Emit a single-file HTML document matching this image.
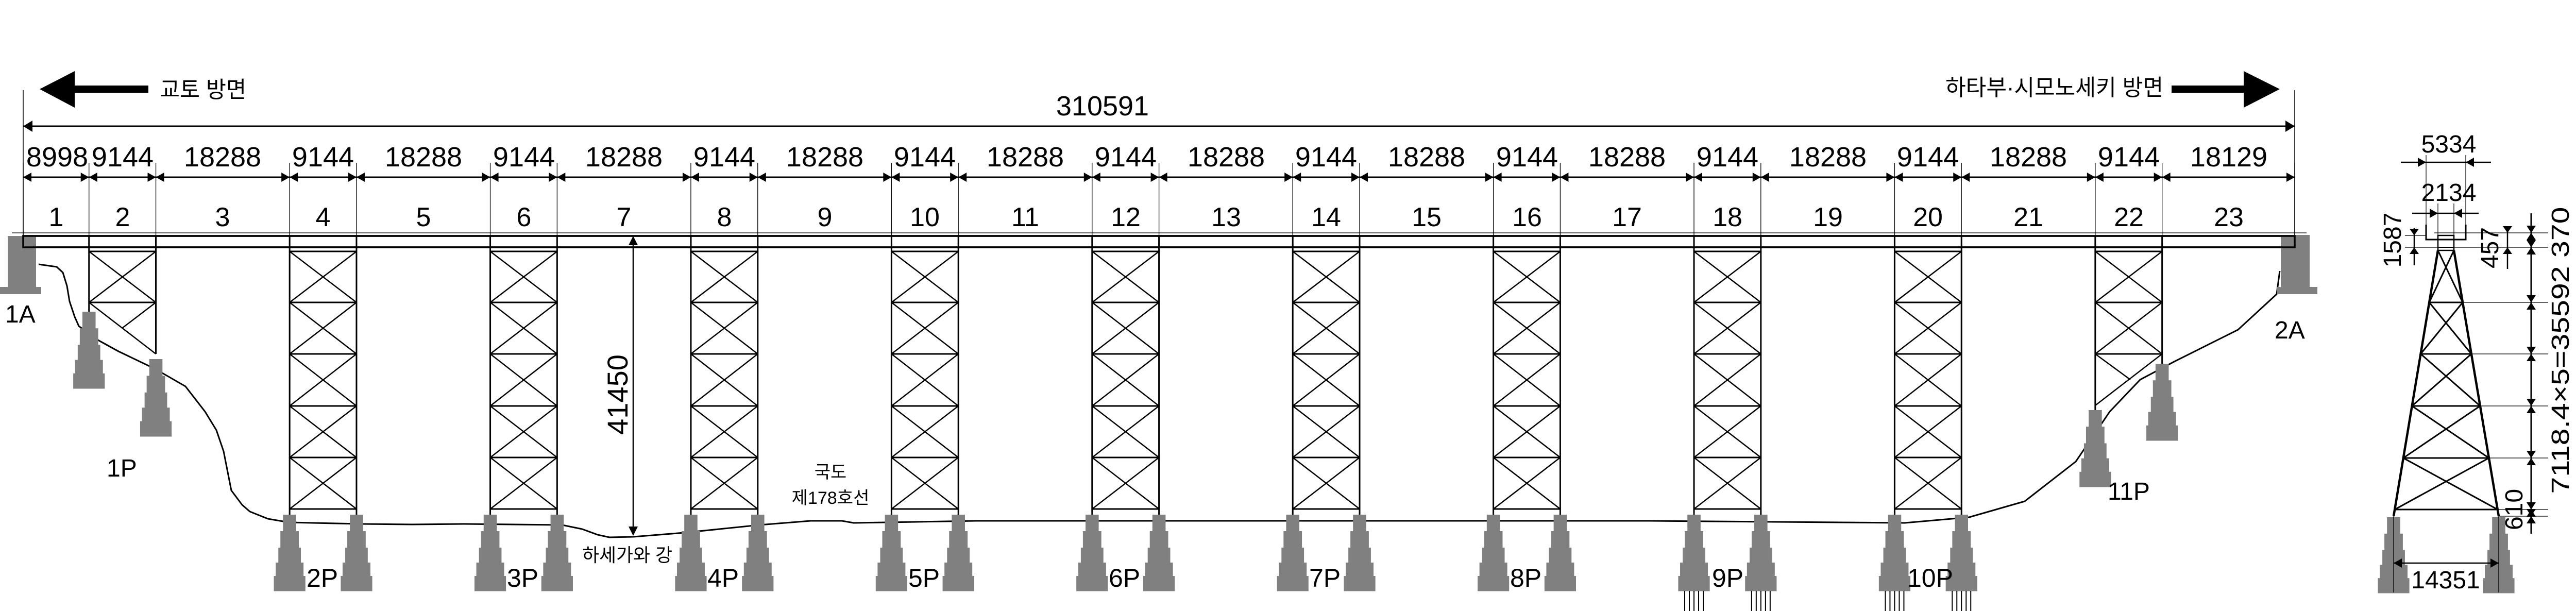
<!DOCTYPE html>
<html><head><meta charset="utf-8"><style>
html,body{margin:0;padding:0;background:#fff;width:5033px;height:1186px;overflow:hidden}
svg{display:block}
text{font-family:"Liberation Sans","Noto Sans CJK KR",sans-serif;fill:#000}
</style></head><body>
<svg id="s" width="5033" height="1186" viewBox="0 0 5033 1186" xmlns="http://www.w3.org/2000/svg">
<g id="g"></g>
<g font-size="54" text-anchor="middle">
<text x="2140" y="224">310591</text>
<text x="111" y="323">8998</text><text x="238" y="323">9144</text><text x="432" y="323">18288</text>
<text x="627" y="323">9144</text><text x="822" y="323">18288</text><text x="1017" y="323">9144</text>
<text x="1211" y="323">18288</text><text x="1406" y="323">9144</text><text x="1601" y="323">18288</text>
<text x="1795" y="323">9144</text><text x="1990" y="323">18288</text><text x="2185" y="323">9144</text>
<text x="2380" y="323">18288</text><text x="2574" y="323">9144</text><text x="2769" y="323">18288</text>
<text x="2964" y="323">9144</text><text x="3158" y="323">18288</text><text x="3353" y="323">9144</text>
<text x="3548" y="323">18288</text><text x="3742" y="323">9144</text><text x="3937" y="323">18288</text>
<text x="4132" y="323">9144</text><text x="4326" y="323">18129</text>
</g>
<g font-size="52" text-anchor="middle">
<text x="109" y="439">1</text><text x="238" y="439">2</text><text x="432" y="439">3</text><text x="627" y="439">4</text>
<text x="822" y="439">5</text><text x="1017" y="439">6</text><text x="1211" y="439">7</text><text x="1406" y="439">8</text>
<text x="1601" y="439">9</text><text x="1795" y="439">10</text><text x="1990" y="439">11</text><text x="2185" y="439">12</text>
<text x="2380" y="439">13</text><text x="2574" y="439">14</text><text x="2769" y="439">15</text><text x="2964" y="439">16</text>
<text x="3158" y="439">17</text><text x="3353" y="439">18</text><text x="3548" y="439">19</text><text x="3742" y="439">20</text>
<text x="3937" y="439">21</text><text x="4132" y="439">22</text><text x="4326" y="439">23</text>
</g>
<text x="310" y="189" font-size="44" textLength="168" lengthAdjust="spacingAndGlyphs">교토 방면</text>
<text x="3776" y="185" font-size="44" textLength="423" lengthAdjust="spacingAndGlyphs">하타부·시모노세키 방면</text>
<g font-size="48">
<text x="10" y="626">1A</text>
<text x="4415" y="657">2A</text>
<text x="207" y="925">1P</text>
<text x="4091" y="970">11P</text>
</g>
<g font-size="50">
<text x="595" y="1139">2P</text><text x="984" y="1139">3P</text><text x="1373" y="1139">4P</text>
<text x="1763" y="1139">5P</text><text x="2152" y="1139">6P</text><text x="2541" y="1139">7P</text>
<text x="2931" y="1139">8P</text><text x="3323" y="1139">9P</text><text x="3702" y="1139">10P</text>
</g>
<text x="1130" y="1090" font-size="36" textLength="175" lengthAdjust="spacingAndGlyphs">하세가와 강</text>
<text x="1612" y="928" font-size="34" text-anchor="middle">국도</text>
<text x="1612" y="978" font-size="34" text-anchor="middle" textLength="151" lengthAdjust="spacingAndGlyphs">제178호선</text>
<text transform="translate(1218,766) rotate(-90)" font-size="56" text-anchor="middle">41450</text>
<g font-size="48" text-anchor="middle">
<text x="4753" y="296">5334</text>
<text x="4753" y="390">2134</text>
<text x="4747" y="1142">14351</text>
<text transform="translate(4986,680) rotate(-90)" textLength="557" lengthAdjust="spacingAndGlyphs">7118.4×5=35592 370</text>
<text transform="translate(4660,466) rotate(-90)">1587</text>
<text transform="translate(4849,481) rotate(-90)">457</text>
<text transform="translate(4896,989) rotate(-90)">610</text>
</g>
</svg>
<script>
const NS="http://www.w3.org/2000/svg",G=document.getElementById("g");
function el(t,a){const e=document.createElementNS(NS,t);for(const k in a)e.setAttribute(k,a[k]);G.appendChild(e);return e;}
function L(x1,y1,x2,y2,w){el("line",{x1,y1,x2,y2,stroke:"#000","stroke-width":w||2.5});}
function P(pts,f){el("polygon",{points:pts.map(p=>p.join(",")).join(" "),fill:f||"#000"});}
function ah(x,y,dir,l,h){l=l||16;h=h||9;P([[x,y],[x-dir*l,y-h],[x-dir*l,y+h]]);}
function av(x,y,dir,l,h){l=l||16;h=h||9;P([[x,y],[x-h,y-dir*l],[x+h,y-dir*l]]);}
const K=4409/310591,X=m=>45+m*K;
const sp=[8998,9144];for(let i=0;i<10;i++){sp.push(18288,9144);}sp.push(18129);
let c=0;const xs=[X(0)];for(const s of sp){c+=s;xs.push(X(c));}
P([[77,173],[145,138],[145,209]]);el("rect",{x:144,y:166,width:144,height:14,fill:"#000"});
P([[4425,173],[4355,138],[4355,209]]);el("rect",{x:4215,y:166,width:141,height:14,fill:"#000"});
L(45,175,45,458,1.5);L(4454,175,4454,458,1.5);
L(45,245,4454,245,3);ah(45,245,-1,18,11);ah(4454,245,1,18,11);
L(45,344,4454,344,3);
xs.forEach((x,i)=>{L(x,316,x,458,1.3);if(i>0)ah(x,344,1);if(i<xs.length-1)ah(x,344,-1);});
L(23,452,4477,452,1.3);
el("rect",{x:45,y:458,width:4409,height:22,fill:"#fff",stroke:"#000","stroke-width":3.5});
const gp=[[75,513],[110,518],[122,529],[130,555],[135,585],[145,615],[153,633],[190,660],[230,682],[301,716],[360,750],[398,799],[420,835],[434,876],[449,952],[470,980],[485,993],[520,1007],[561,1014],[700,1017],[800,1018],[900,1017],[1091,1019],[1130,1027],[1160,1038],[1183,1043],[1229,1042],[1328,1034],[1474,1019],[1573,1011],[1634,1011],[1657,1015],[1895,1011],[2100,1011],[3200,1011],[3697,1015],[3822,1004],[3930,973],[4029,896],[4095,799],[4154,737],[4220,702],[4344,640],[4419,571],[4425,526]];
el("polyline",{points:gp.map(p=>p.join(",")).join(" "),fill:"none",stroke:"#000","stroke-width":3,"stroke-linejoin":"round"});
const gr="#808080";
el("rect",{x:15,y:458,width:55,height:100,fill:gr});el("rect",{x:0,y:557,width:80,height:14,fill:gr});
el("rect",{x:4427,y:456,width:56,height:102,fill:gr});el("rect",{x:4420,y:557,width:78,height:14,fill:gr});
el("rect",{x:45,y:458,width:4409,height:22,fill:"none",stroke:"#000","stroke-width":3.5});
function foot(cx,yt,s){s=s||1;const hs=[32,32,29,26,29],hw=[12.8,17.9,21.9,27,30.6];let y=yt;
 for(let i=0;i<5;i++){const h=hs[i]*s;el("rect",{x:cx-hw[i],y:y,width:hw[i]*2,height:h+0.5,fill:gr});y+=h;}}
const lv=[488,587,687,788,888,988];
for(let k=1;k<=9;k++){const a=xs[2*k+1],b=xs[2*k+2];
 L(a,458,a,999,3);L(b,458,b,999,3);
 lv.forEach(y=>L(a,y,b,y,3));
 for(let i=0;i<5;i++){L(a,lv[i],b,lv[i+1]);L(b,lv[i],a,lv[i+1]);}
 foot(a,999);foot(b,999);
 if(k==8||k==9){for(const cx of[a,b])for(const d of[-18,-9,0,9,18])L(cx+d,1147,cx+d,1186,2);}
}
{const a=xs[1],b=xs[2];L(a,458,a,605,3);L(b,458,b,687,3);L(a,488,b,488,3);L(a,587,b,587,3);
 L(a,488,b,587);L(b,488,a,587);L(a,587,b,687);L(b,587,237,637);
 foot(a,605,149/148);foot(b,697,150/148);}
{const a=xs[21],b=xs[22];L(a,458,a,796,3);L(b,458,b,706,3);[488,587,687].forEach(y=>L(a,y,b,y,3));
 L(a,488,b,587);L(b,488,a,587);L(a,587,b,687);L(b,587,a,687);L(b,687,a,787);L(a,687,4135,737);
 foot(a,796,149/148);foot(b,706,149/148);}
{const lx=y=>4732-86*(y-486)/516,rx=y=>4763+87*(y-486)/516;
 L(4732,486,4646,1002,4.5);L(4763,486,4850,1002,4.5);
 const sl=[486,587,687,788,889,989];
 sl.forEach((y,i)=>{if(i>0)L(lx(y),y,rx(y),y,3);});
 for(let i=0;i<5;i++){L(lx(sl[i]),sl[i],rx(sl[i+1]),sl[i+1],3);L(rx(sl[i]),sl[i],lx(sl[i+1]),sl[i+1],3);}
 el("path",{d:"M4709,436 V465 H4786 V436",fill:"none",stroke:"#000","stroke-width":3});
 el("rect",{x:4732,y:457,width:31,height:29,fill:"none",stroke:"#000","stroke-width":2.5});L(4732,480,4763,480,2);
 L(4709,301,4709,464,1.2);L(4786,301,4786,464,1.2);L(4732,395,4732,486,1.2);L(4763,395,4763,486,1.2);
 L(4660,315,4835,315,2.5);ah(4709,315,1);ah(4786,315,-1);
 L(4682,414,4811,414,2.5);ah(4732,414,1);ah(4763,414,-1);
 [587,687,788,889,989].forEach(y=>L(rx(y),y,4946,y,1.2));
 L(4850,1002,4946,1002,1.2);L(4725,452,4946,452,1.2);L(4763,480,4946,480,1.2);
 L(4668,457,4709,457,1.2);L(4668,480,4732,480,1.2);
 L(4913,414,4913,1036,3);
 [452,480,587,687,788,889,989,1002].forEach((y,i,arr)=>{if(i>0)av(4913,y,1,14,9);if(i<arr.length-1)av(4913,y,-1,14,9);});
 av(4913,452,1,14,9);av(4913,1002,-1,14,9);
 L(4867,443,4867,522,2.5);av(4867,452,1,13,9);av(4867,480,-1,13,9);
 L(4686,443,4686,515,2.5);av(4686,457,1,13,9);av(4686,480,-1,13,9);
 foot(4646,1004,147/148);foot(4850,1004,147/148);
 L(4646,1002,4646,1150,1.3);L(4850,1002,4850,1150,1.3);
 L(4646,1093,4850,1093,2.5);ah(4646,1093,-1);ah(4850,1093,1);
}
L(1229,460,1229,1036,2.5);av(1229,458,-1,18,9);av(1229,1040,1,18,9);
</script>
</body></html>
